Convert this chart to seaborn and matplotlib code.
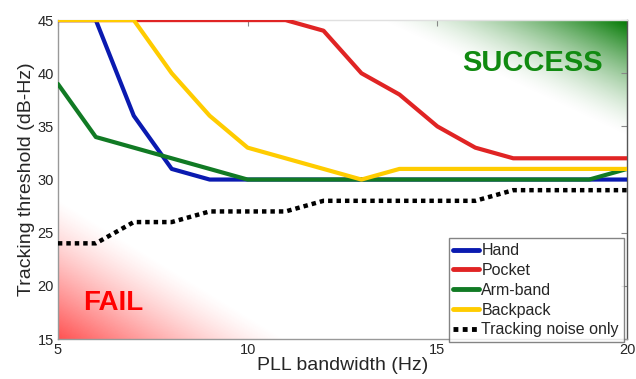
import numpy as np
import pandas as pd
import matplotlib
matplotlib.use("Agg")
import matplotlib.pyplot as plt
import seaborn as sns

bandwidth = [5, 6, 7, 8, 9, 10, 11, 12, 13, 14, 15, 16, 17, 18, 19, 20]
hand = [45, 45, 36, 31, 30, 30, 30, 30, 30, 30, 30, 30, 30, 30, 30, 30]
pocket = [45, 45, 45, 45, 45, 45, 45, 44, 40, 38, 35, 33, 32, 32, 32, 32]
armband = [39, 34, 33, 32, 31, 30, 30, 30, 30, 30, 30, 30, 30, 30, 30, 31]
backpack = [45, 45, 45, 40, 36, 33, 32, 31, 30, 31, 31, 31, 31, 31, 31, 31]
noise_only = [24, 24, 26, 26, 27, 27, 27, 28, 28, 28, 28, 28, 29, 29, 29, 29]

series_names = ["Hand", "Pocket", "Arm-band", "Backpack", "Tracking noise only"]
series_vals = [hand, pocket, armband, backpack, noise_only]
colors = ["#0a1ab0", "#e02424", "#117a24", "#ffcc00", "#000000"]

sns.set_style("white")
plt.rcParams["font.family"] = ["Liberation Sans", "DejaVu Sans"]

fig = plt.figure(figsize=(6.36, 3.79), dpi=100)
ax = fig.add_axes([0.091, 0.1055, 0.895, 0.8415])

# gradients
n = 400
xs = np.linspace(0, 1, n)
ys = np.linspace(0, 1, n)
X, Y = np.meshgrid(xs, ys)
# success (top-right)
u = 1 - X
v = 1 - Y
a = np.clip(1 - (u / 0.44 + v / 0.37), 0, 1) ** 1.5
g = np.zeros((n, n, 4))
g[..., 0] = 0.0
g[..., 1] = 0.47
g[..., 2] = 0.0
g[..., 3] = a
ax.imshow(g, extent=[0, 1, 0, 1], origin="lower", transform=ax.transAxes,
          aspect="auto", zorder=0, interpolation="bilinear")
# fail (bottom-left)
a2 = np.clip(1 - (X / 0.40 + Y / 0.44), 0, 1) ** 1.3 * 0.85
r = np.zeros((n, n, 4))
r[..., 0] = 1.0
r[..., 1] = 0.2
r[..., 2] = 0.2
r[..., 3] = a2
ax.imshow(r, extent=[0, 1, 0, 1], origin="lower", transform=ax.transAxes,
          aspect="auto", zorder=0, interpolation="bilinear")

for name, vals, c in zip(series_names, series_vals, colors):
    df = pd.DataFrame({"bw": bandwidth, "thr": vals})
    if name == "Tracking noise only":
        sns.lineplot(data=df, x="bw", y="thr", color=c, lw=3.2, ax=ax,
                     label=name, linestyle=(0, (1, 0.9)), zorder=3)
    else:
        sns.lineplot(data=df, x="bw", y="thr", color=c, lw=3, ax=ax,
                     label=name, zorder=3)

ax.set_xlim(5, 20)
ax.set_ylim(15, 45)
ax.set_xticks([5, 10, 15, 20])
ax.set_yticks([15, 20, 25, 30, 35, 40, 45])
ax.tick_params(direction="in", length=4, width=0.8, color="#888888",
               labelsize=10.5, top=True, right=True, pad=3)
for s in ax.spines.values():
    s.set_color("#999999")
    s.set_linewidth(1)
ax.spines["top"].set_color("#e0e0e0")
ax.spines["right"].set_color("#555555")

ax.set_xlabel("PLL bandwidth (Hz)", fontsize=14, labelpad=0)
ax.set_ylabel("Tracking threshold (dB-Hz)", fontsize=14, labelpad=2)

ax.text(17.5, 41.0, "SUCCESS", color="#108a10", fontsize=21, fontweight="bold",
        ha="center", va="center", zorder=4)
ax.text(6.45, 18.4, "FAIL", color="#ff0000", fontsize=20, fontweight="bold",
        ha="center", va="center", zorder=4)

leg = ax.legend(loc="lower right", bbox_to_anchor=(0.994, -0.01), fontsize=11.5,
                frameon=True, fancybox=False, handlelength=1.6, handletextpad=0.15,
                labelspacing=0.3, borderpad=0.3, borderaxespad=0)
leg.get_frame().set_edgecolor("#666666")
leg.get_frame().set_linewidth(1)
leg.set_zorder(5)
for h in leg.get_lines():
    h.set_linewidth(3.5)

fig.savefig("out.png", dpi=100)
